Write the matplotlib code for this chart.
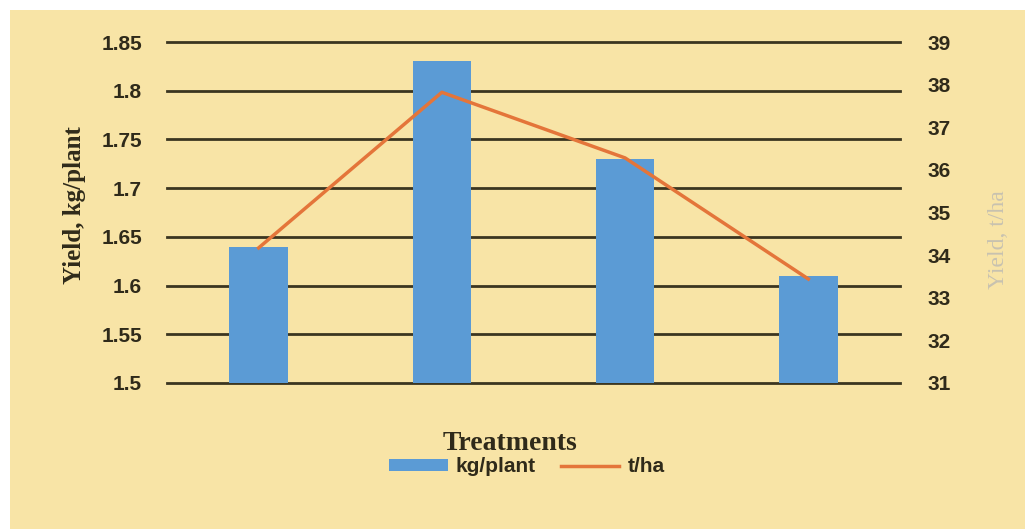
import matplotlib.pyplot as plt
from matplotlib.patches import Rectangle
from matplotlib.lines import Line2D
from matplotlib.patches import Patch

# values
treatments = ['T1', 'T2', 'T3', 'T4']
kg_per_plant = [1.64, 1.83, 1.73, 1.61]
t_per_ha = [34.17, 37.82, 36.28, 33.44]

bg = '#f8e4a6'
grid_col = '#3b3520'
bar_col = '#5b9bd5'
line_col = '#e4753a'
text_col = '#2f2a1a'
tick_font = ['Liberation Sans', 'DejaVu Sans']
label_font = ['Liberation Serif', 'DejaVu Serif']

fig = plt.figure(figsize=(10.25, 5.29), dpi=100)
fig.patch.set_facecolor('white')
fig.patches.append(Rectangle((10 / 1025, 0), 1, 1 - 10 / 529,
                             transform=fig.transFigure, facecolor=bg,
                             edgecolor='none', zorder=-5))

ax = fig.add_axes([167 / 1025, 1 - 383 / 529, 733 / 1025, 341 / 529])
ax.set_facecolor('none')
x = range(len(treatments))
ax.bar(x, [v - 1.5 for v in kg_per_plant], bottom=1.5, width=0.32,
       color=bar_col, zorder=3)
ax.set_xlim(-0.5, 3.5)
ax.set_ylim(1.5, 1.85)
ax.set_yticks([1.5, 1.55, 1.6, 1.65, 1.7, 1.75, 1.8, 1.85])
ax.set_yticklabels(['1.5', '1.55', '1.6', '1.65', '1.7', '1.75', '1.8', '1.85'],
                   family=tick_font, fontweight='bold', fontsize=15,
                   color=text_col)
ax.set_xticks([])
ax.tick_params(axis='y', length=0, pad=18)
for s in ax.spines.values():
    s.set_visible(False)
ax.grid(axis='y', color=grid_col, linewidth=2, zorder=1)
ax.set_axisbelow(True)
for gl in ax.get_ygridlines():
    gl.set_clip_on(False)

ax2 = ax.twinx()
ax2.plot(list(x), t_per_ha, color=line_col, linewidth=2.5, zorder=4)
ax2.set_ylim(31, 39)
ax2.set_yticks(range(31, 40))
ax2.set_yticklabels([str(v) for v in range(31, 40)], family=tick_font,
                    fontweight='bold', fontsize=15, color=text_col)
ax2.tick_params(axis='y', length=0, pad=20)
for s in ax2.spines.values():
    s.set_visible(False)

fig.text(75 / 1025, 1 - 205 / 529, 'Yield, kg/plant', family=label_font,
         fontweight='bold', fontsize=18, color=text_col, rotation=90,
         ha='center', va='center')
fig.text(998 / 1025, 1 - 240 / 529, 'Yield, t/ha', family=label_font,
         fontsize=17, color='#c8c2b0', rotation=90, ha='center', va='center')

fig.text(510 / 1025, 1 - 444 / 529, 'Treatments', family=label_font,
         fontweight='bold', fontsize=20, color=text_col,
         ha='center', va='center')

handles = [Patch(facecolor=bar_col, edgecolor='none'),
           Line2D([0], [0], color=line_col, linewidth=2.5)]
fig.legend(handles, ['kg/plant', 't/ha'], loc='center',
           bbox_to_anchor=(527 / 1025, 1 - 467 / 529), ncol=2, frameon=False,
           prop={'family': tick_font, 'weight': 'bold', 'size': 15},
           handlelength=2.8, handleheight=0.55, columnspacing=1.2,
           handletextpad=0.4, labelcolor=text_col)

fig.savefig('out.png', dpi=100, facecolor=fig.get_facecolor())
